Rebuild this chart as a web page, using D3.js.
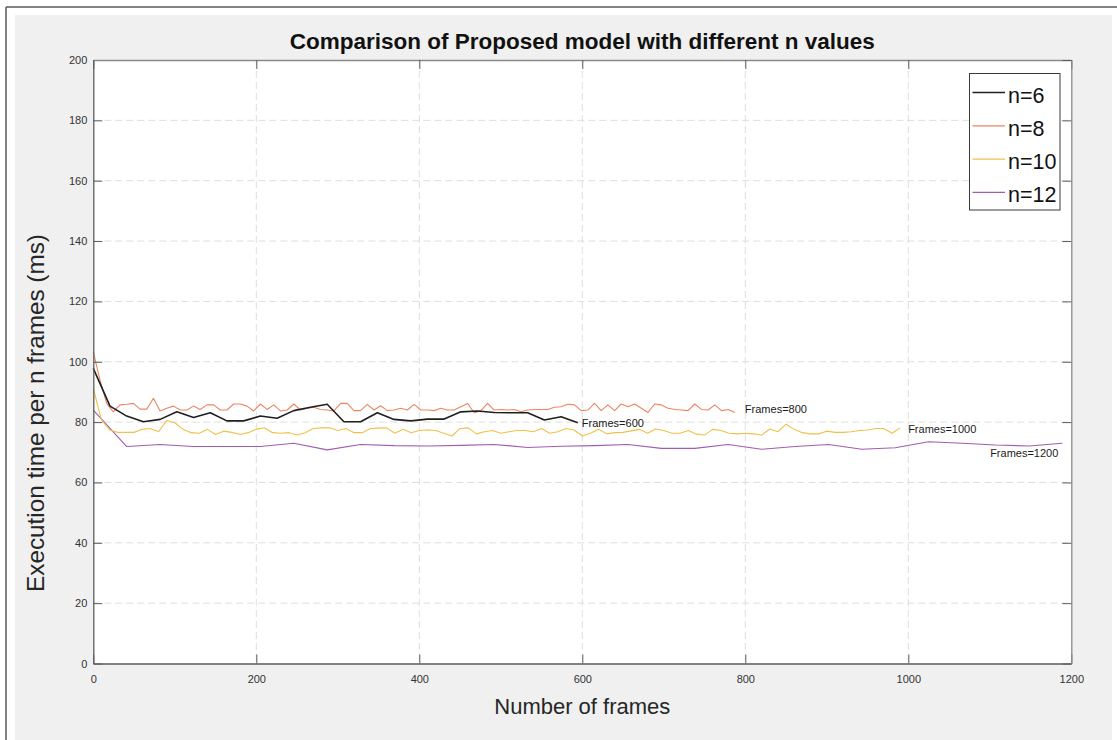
<!DOCTYPE html>
<html>
<head>
<meta charset="utf-8">
<script src="https://cdn.jsdelivr.net/npm/d3@7"></script>
<style>
  html, body { margin: 0; padding: 0; background: #ffffff; }
  svg { display: block; font-family: "Liberation Sans", Arial, Helvetica, sans-serif; }
</style>
</head>
<body>
<svg id="chart" width="1117" height="740"></svg>
<script>
// ---- data -------------------------------------------------------------
const xTicks = [0, 200, 400, 600, 800, 1000, 1200];
const yTicks = [0, 20, 40, 60, 80, 100, 120, 140, 160, 180, 200];
const seriesNames = ["n=6", "n=8", "n=10", "n=12"];
const endLabels = ["Frames=600", "Frames=800", "Frames=1000", "Frames=1200"];

// sampling interval (frames) between consecutive points of each series
const n6Interval = 20.5;
const n8Interval = 8.2;
const n10Interval = 10;
const n12Interval = 41;

const n6Values = [97.8, 85.3, 82.0, 80.1, 80.9, 83.4, 81.5, 83.1, 80.4, 80.4,
  82.0, 81.3, 83.8, 84.9, 85.9, 80.1, 80.1, 83.1, 80.9, 80.4,
  81.0, 81.0, 83.4, 83.7, 83.2, 83.1, 83.1, 80.7, 81.8, 79.8];

const n8Values = [103.3, 94.0, 86.2, 83.4, 85.7, 85.9, 86.2, 84.3, 84.3, 87.9,
  83.7, 84.6, 85.3, 84.0, 84.0, 85.3, 84.2, 85.7, 85.7, 84.0,
  84.0, 86.0, 86.0, 85.3, 83.7, 86.0, 84.2, 85.7, 83.7, 84.0,
  86.0, 84.0, 84.6, 84.9, 84.2, 84.0, 83.7, 86.2, 86.2, 83.8,
  83.8, 85.9, 84.0, 85.4, 83.8, 84.0, 84.6, 84.0, 85.9, 84.0,
  84.0, 83.8, 84.6, 84.0, 84.0, 85.1, 86.2, 83.1, 83.8, 86.2,
  84.0, 84.2, 84.0, 84.2, 83.4, 84.0, 84.2, 84.2, 84.2, 84.9,
  85.1, 85.9, 85.7, 83.8, 84.0, 86.2, 83.8, 85.7, 83.8, 86.0,
  85.1, 86.0, 84.6, 83.2, 86.0, 85.7, 84.6, 84.2, 84.0, 83.8,
  86.0, 84.2, 84.0, 85.7, 83.8, 84.2, 83.2];

const n10Values = [91.2, 80.7, 77.4, 76.6, 76.6, 76.6, 77.6, 77.9, 76.8, 80.5,
  79.8, 77.6, 76.5, 76.3, 77.6, 75.9, 77.0, 76.6, 75.9, 76.5,
  77.6, 78.1, 76.5, 76.3, 76.5, 75.7, 76.5, 77.9, 78.1, 78.1,
  77.2, 77.9, 76.5, 76.5, 77.9, 78.0, 78.1, 76.3, 77.6, 76.5,
  77.2, 77.4, 77.2, 76.3, 75.4, 77.9, 78.1, 76.1, 76.8, 77.2,
  76.3, 76.8, 77.2, 77.2, 76.8, 77.9, 76.3, 76.8, 77.9, 77.4,
  75.4, 76.3, 77.6, 76.1, 76.5, 76.6, 77.1, 77.6, 76.3, 77.7,
  77.2, 76.3, 76.3, 77.2, 76.0, 75.7, 77.6, 77.2, 76.3, 76.1,
  76.3, 76.1, 75.7, 77.7, 76.8, 79.3, 77.6, 76.5, 76.1, 76.1,
  77.0, 76.6, 76.6, 76.8, 77.2, 77.4, 77.9, 77.9, 76.3, 78.1];

const n12Values = [84.0, 71.9, 72.6, 71.9, 71.9, 71.9, 73.0, 70.8, 72.6, 72.2,
  72.1, 72.3, 72.6, 71.6, 72.0, 72.2, 72.6, 71.3, 71.3, 72.6,
  71.0, 71.9, 72.6, 71.0, 71.5, 73.5, 73.0, 72.4, 72.1, 73.0];

// ---- layout -----------------------------------------------------------
const W = 1117, H = 740;
const plot = { left: 93.3, right: 1071.3, top: 60, bottom: 663.5 };

const svg = d3.select("#chart");

// page frame and grey figure background
svg.append("rect").attr("x", 15).attr("y", 15).attr("width", 1097).attr("height", H - 15)
  .attr("fill", "#f0f0f0");
svg.append("line").attr("x1", 6).attr("x2", W).attr("y1", 7).attr("y2", 7)
  .attr("stroke", "#5a5a5a").attr("stroke-width", 1.5);
svg.append("line").attr("x1", 6).attr("x2", 6).attr("y1", 7).attr("y2", H)
  .attr("stroke", "#5a5a5a").attr("stroke-width", 1.5);

const x = d3.scaleLinear().domain([0, 1200]).range([plot.left, plot.right]);
const y = d3.scaleLinear().domain([0, 200]).range([plot.bottom, plot.top]);

// white axes area
svg.append("rect")
  .attr("x", plot.left).attr("y", plot.top)
  .attr("width", plot.right - plot.left).attr("height", plot.bottom - plot.top)
  .attr("fill", "#ffffff");

// dashed grid
const grid = svg.append("g").attr("stroke", "#dedede").attr("stroke-width", 1)
  .attr("stroke-dasharray", "7,4");
grid.selectAll("line.gx").data(xTicks.slice(1, -1)).join("line")
  .attr("x1", d => x(d)).attr("x2", d => x(d))
  .attr("y1", plot.top).attr("y2", plot.bottom);
grid.selectAll("line.gy").data(yTicks.slice(1, -1)).join("line")
  .attr("x1", plot.left).attr("x2", plot.right)
  .attr("y1", d => y(d)).attr("y2", d => y(d));

// series
const series = [
  { name: seriesNames[0], values: n6Values, step: n6Interval, color: "#1f1f1f", width: 1.6 },
  { name: seriesNames[1], values: n8Values, step: n8Interval, color: "#ec8563", width: 1.1 },
  { name: seriesNames[2], values: n10Values, step: n10Interval, color: "#f2c04a", width: 1.1 },
  { name: seriesNames[3], values: n12Values, step: n12Interval, color: "#a25cb0", width: 1.1 }
];

const line = d3.line().x(d => x(d.frame)).y(d => y(d.value));

series.forEach(s => {
  s.points = s.values.map((v, k) => ({ frame: k * s.step, value: v }));
});

// draw back to front so that n=6 sits on top
[3, 2, 1, 0].forEach(i => {
  const s = series[i];
  svg.append("path").datum(s.points)
    .attr("fill", "none").attr("stroke", s.color).attr("stroke-width", s.width)
    .attr("stroke-linejoin", "round")
    .attr("d", line);
});

// end-of-run annotations
const labelOffsets = [[4, 4], [10, 1], [8, 5], [-4, 14]];
series.forEach((s, i) => {
  const last = s.points[s.points.length - 1];
  svg.append("text")
    .attr("x", x(last.frame) + labelOffsets[i][0])
    .attr("y", y(last.value) + labelOffsets[i][1])
    .attr("text-anchor", i === 3 ? "end" : "start")
    .attr("font-size", 11).attr("fill", "#1a1a1a")
    .text(endLabels[i]);
});

// axes: ticks on all four sides, pointing inward
const axisColor = "#5c5c5c";
const gx = svg.append("g").attr("transform", `translate(0,${plot.bottom})`)
  .call(d3.axisBottom(x).tickValues(xTicks).tickFormat(d3.format("d"))
    .tickSizeInner(-9).tickSizeOuter(0).tickPadding(12));
const gy = svg.append("g").attr("transform", `translate(${plot.left},0)`)
  .call(d3.axisLeft(y).tickValues(yTicks).tickFormat(d3.format("d"))
    .tickSizeInner(-9).tickSizeOuter(0).tickPadding(6));
const gt = svg.append("g").attr("transform", `translate(0,${plot.top})`)
  .call(d3.axisTop(x).tickValues(xTicks).tickSizeInner(-9).tickSizeOuter(0).tickFormat(""));
const gr = svg.append("g").attr("transform", `translate(${plot.right},0)`)
  .call(d3.axisRight(y).tickValues(yTicks).tickSizeInner(-9).tickSizeOuter(0).tickFormat(""));

[gx, gy].forEach(g => {
  g.select(".domain").attr("stroke", axisColor).attr("stroke-width", 1.3);
  g.selectAll(".tick line").attr("stroke", axisColor);
  g.selectAll(".tick text").attr("fill", "#333333").attr("font-size", 11)
    .attr("font-family", "'Liberation Sans', Arial, sans-serif");
});
[gt, gr].forEach(g => {
  g.select(".domain").attr("stroke", "#8a8a8a").attr("stroke-width", 1.3);
  g.selectAll(".tick line").attr("stroke", axisColor);
});

// title and axis labels
svg.append("text")
  .attr("x", (plot.left + plot.right) / 2).attr("y", 49)
  .attr("text-anchor", "middle").attr("font-size", 22.5).attr("font-weight", "bold")
  .attr("fill", "#111111")
  .text("Comparison of Proposed model with different n values");

svg.append("text")
  .attr("x", (plot.left + plot.right) / 2).attr("y", 714)
  .attr("text-anchor", "middle").attr("font-size", 22).attr("fill", "#262626")
  .text("Number of frames");

svg.append("text")
  .attr("transform", "translate(44,413) rotate(-90)")
  .attr("text-anchor", "middle").attr("font-size", 24.3).attr("fill", "#262626")
  .text("Execution time per n frames (ms)");

// legend
const legend = svg.append("g");
legend.append("rect")
  .attr("x", 969.5).attr("y", 73.5).attr("width", 90.5).attr("height", 136.5)
  .attr("fill", "#ffffff").attr("stroke", "#3a3a3a").attr("stroke-width", 1);
series.forEach((s, i) => {
  const ly = 92.5 + i * 33.3;
  legend.append("line")
    .attr("x1", 972.5).attr("x2", 1005).attr("y1", ly).attr("y2", ly)
    .attr("stroke", s.color).attr("stroke-width", i === 0 ? 1.6 : 1.3);
  legend.append("text")
    .attr("x", 1008).attr("y", ly + 10)
    .attr("font-size", 21.5).attr("fill", "#111111")
    .text(s.name);
});
</script>
</body>
</html>
